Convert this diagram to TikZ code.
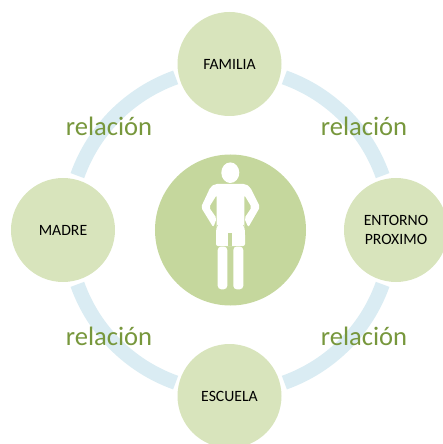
\documentclass[tikz,border=0pt]{standalone}
\usepackage{fontspec}
\setmainfont{Carlito}
\usepackage{xcolor}
\definecolor{Pale Olive}{HTML}{D8E4BC}
\definecolor{Soft Olive}{HTML}{C5D79D}
\definecolor{Pale Sky}{HTML}{DAECF3}
\definecolor{Moss}{HTML}{77973C}
\colorlet{cCircle}{Pale Olive}
\colorlet{cCentre}{Soft Olive}
\colorlet{cRing}{Pale Sky}
\colorlet{cLabel}{Moss}
\usetikzlibrary{calc}
\tikzset{
	x = 1pt,
	y = 1pt,
	actor/.style={
		circle,
		fill=cCircle,
		inner sep=0pt,
		minimum size=104pt,
		align=center,
		font=\fontsize{15.7}{19}\selectfont,
		text=black
	},
	ringarc/.style={
		draw=cRing,
		line width=14.5pt
	},
	relationlabel/.style={
		font=\fontsize{26.6}{28}\selectfont,
		text=cLabel,
		inner sep=0pt
	},
	silhouette/.style={
		fill=white,
		draw=none
	}
}
\begin{document}
\begin{tikzpicture}
		\useasboundingbox (-230,-214) rectangle (213,230);
		\clip (-230,-214) rectangle (213,230);

		\node[circle, fill=cCentre, inner sep=0pt, minimum size=151pt] at (0.5,0) (centre) {};

		\coordinate (hub) at (0,0);
		\draw[ringarc] ($(hub)+(70.4:162)$) arc[start angle=70.4, end angle=19.6, radius=162];
		\draw[ringarc] ($(hub)+(-19.6:162)$) arc[start angle=-19.6, end angle=-70.4, radius=162];
		\draw[ringarc] ($(hub)+(-109.6:162)$) arc[start angle=-109.6, end angle=-160.4, radius=162];
		\draw[ringarc] ($(hub)+(160.4:162)$) arc[start angle=160.4, end angle=109.6, radius=162];

		\node[actor] at (-0.5,166) (familia) {FAMILIA};
		\node[actor] at (166,0) (entorno) {ENTORNO\\PROXIMO};
		\node[actor] at (-0.5,-166) (escuela) {ESCUELA};
		\node[actor] at (-167,0) (madre) {MADRE};

		\node[relationlabel] at (-121,104) (rel1) {relación};
		\node[relationlabel] at (134,104) (rel2) {relación};
		\node[relationlabel] at (-121,-106) (rel3) {relación};
		\node[relationlabel] at (134,-106) (rel4) {relación};

		% figure in the middle
		\fill[silhouette] (0.3,57.3) ellipse (9 and 10.3);
		\fill[silhouette, rounded corners=2pt]
			(-15,46) -- (15.5,46) -- (20,43) -- (30,23) -- (18.3,2.7) -- (14.3,11.7) -- (21.7,22.7)
			-- (14.3,35) -- (14.3,5) -- (15,-3) -- (15,-16) -- (-14,-16) -- (-14,-3) -- (-13.3,5)
			-- (-13.3,35) -- (-21,22.7) -- (-13.3,11.7) -- (-16.7,2.7) -- (-29,22.7) -- (-19.5,43) -- cycle;
		\draw[cCentre, line width=.4pt] (-12.3,5) -- (-15,0);
		\draw[cCentre, line width=.4pt] (13.3,5) -- (16,0);
		\fill[cCentre] (-1.7,-16) rectangle (1.7,-3.3);
		\fill[silhouette, rounded corners=3.5pt] (-12.3,-16.5) rectangle (-2.7,-59.3);
		\fill[silhouette, rounded corners=3.5pt] (3.3,-16.5) rectangle (13.3,-59.3);
	\end{tikzpicture}
\end{document}
